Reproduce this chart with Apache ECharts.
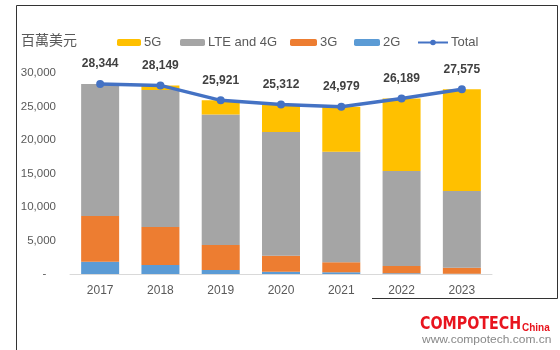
<!DOCTYPE html>
<html lang="zh-Hant">
<head>
    <meta charset="UTF-8">
    <title>行動通訊晶片市場</title>
    <script src="https://cdn.jsdelivr.net/npm/echarts@6/dist/echarts.min.js"></script>
</head>
<style>
    html, body { margin: 0; padding: 0; background: #fff; }
    #main { width: 560px; height: 350px; }
</style>
<body>
<div id="main"></div>
<script>
    // 數據（百萬美元）
    var years = ['2017', '2018', '2019', '2020', '2021', '2022', '2023'];
    var g5 = [0, 700, 2100, 4118, 6725, 10816, 15187];
    var lte = [19687, 20434, 19493, 18463, 16508, 14179, 11448];
    var g3 = [6817, 5672, 3728, 2381, 1496, 1094, 890];
    var g2 = [1840, 1343, 600, 350, 250, 100, 50];
    var total = [28344, 28149, 25921, 25312, 24979, 26189, 27575];

    var txt = '#595959';
    var font = '"Liberation Sans", Arial, sans-serif';

    function legendAt(name, left, w) {
        return {
            data: [name], left: left, top: 31,
            itemWidth: w, itemHeight: 7, itemGap: 0,
            textStyle: { color: txt, fontSize: 13, fontFamily: font, padding: [0, 0, 0, -2] }
        };
    }

    function barSeries(name, data, color) {
        return {
            name: name, type: 'bar', stack: 'all', data: data,
            barWidth: 38, itemStyle: { color: color }
        };
    }

    var myChart = echarts.init(document.getElementById('main'));
    var option = {
        animation: false,
        textStyle: { fontFamily: font },
        legend: [
            legendAt('5G', 112, 24),
            legendAt('LTE and 4G', 175, 25),
            legendAt('3G', 285, 27),
            legendAt('2G', 349, 26),
            legendAt('Total', 412, 30)
        ],
        grid: { left: 70, right: 68, top: 73, bottom: 76 },
        xAxis: {
            type: 'category',
            data: years,
            axisLine: { lineStyle: { color: '#d9d9d9' } },
            axisTick: { show: false },
            axisLabel: { color: txt, fontSize: 12, margin: 11 }
        },
        yAxis: {
            type: 'value', min: 0, max: 30000, interval: 5000,
            splitLine: { show: false },
            axisLine: { show: false },
            axisTick: { show: false },
            axisLabel: {
                color: txt, fontSize: 11.5, margin: 14,
                formatter: function (v) { return v === 0 ? '-   ' : v.toLocaleString('en-US'); }
            }
        },
        series: [
            barSeries('2G', g2, '#5b9bd5'),
            barSeries('3G', g3, '#ed7d31'),
            barSeries('LTE and 4G', lte, '#a5a5a5'),
            barSeries('5G', g5, '#ffc000'),
            {
                name: 'Total', type: 'line', data: total,
                z: 5,
                symbol: 'circle', symbolSize: 8,
                lineStyle: { color: '#4472c4', width: 3.5 },
                itemStyle: { color: '#4472c4' },
                label: {
                    show: true, position: 'top', distance: 10,
                    color: '#404040', fontSize: 12, fontWeight: 'bold',
                    formatter: function (p) { return p.value.toLocaleString('en-US'); }
                }
            }
        ],
        graphic: [
            { type: 'polyline', shape: { points: [[16.5, 350], [16.5, 5.5], [557.5, 5.5], [557.5, 298.5], [372, 298.5]] },
              style: { stroke: '#333', lineWidth: 1, fill: null } },
            { type: 'text', left: 21, top: 33, style: { text: '百萬美元', fill: txt, fontSize: 14, fontFamily: '"Noto Sans CJK TC", sans-serif' } },
            { type: 'rect', shape: { x: 414, y: 312, width: 146, height: 38 }, style: { fill: '#fff' } },
            { type: 'text', x: 420, y: 315, scaleX: 0.88, style: { text: 'COMPOTECH', fill: '#e8141e', fontSize: 18, fontWeight: 'bold', fontFamily: '"DejaVu Sans Condensed", "Liberation Sans Narrow", sans-serif' } },
            { type: 'text', x: 522, y: 323, style: { text: 'China', fill: '#e8141e', fontSize: 10, fontWeight: 'bold', fontFamily: font } },
            { type: 'text', x: 422, y: 335, scaleX: 1.2, style: { text: 'www.compotech.com.cn', fill: '#888', fontSize: 10, fontFamily: font } }
        ]
    };
    myChart.setOption(option);
</script>
</body>
</html>
